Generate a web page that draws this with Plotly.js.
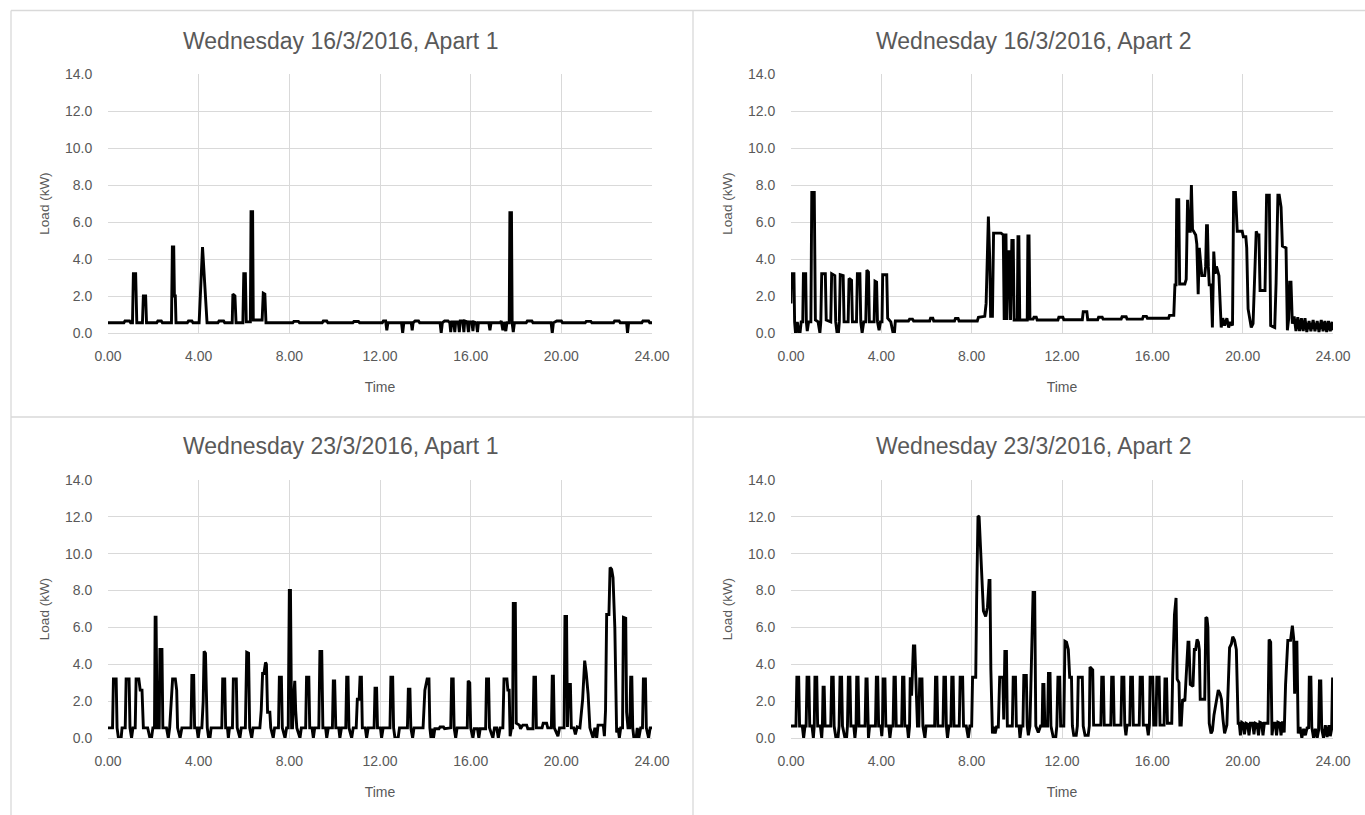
<!DOCTYPE html>
<html>
<head>
<meta charset="utf-8">
<script src="https://cdn.plot.ly/plotly-3.0.1.min.js"></script>
<style>html,body{margin:0;padding:0;background:#fff;}#chart{width:1365px;height:815px;}</style>
</head>
<body>
<div id="chart"></div>
<script>
// Chart titles
const panelTitles = [
  "Wednesday 16/3/2016, Apart 1",
  "Wednesday 16/3/2016, Apart 2",
  "Wednesday 23/3/2016, Apart 1",
  "Wednesday 23/3/2016, Apart 2"
];
const xTitle = "Time";
const yTitle = "Load (kW)";
const xTickVals = [0, 4, 8, 12, 16, 20, 24];
const yTickVals = [0, 2, 4, 6, 8, 10, 12, 14];

// [time (h), load (kW)]
const load16Apart1 = [
[0,0.55],[0.7,0.55],[0.75,0.65],[0.95,0.65],[1.0,0.55],[1.08,0.55],[1.12,3.2],[1.22,3.2],[1.27,0.55],[1.52,0.55],[1.56,2.0],[1.66,2.0],[1.7,0.55],
[2.15,0.55],[2.2,0.65],[2.35,0.65],[2.4,0.55],[2.8,0.55],[2.84,4.65],[2.9,4.65],[2.93,2.0],[2.97,2.0],[3.0,0.55],[3.5,0.55],[3.55,0.65],[3.7,0.65],[3.75,0.55],
[4.02,0.55],[4.17,4.65],[4.3,2.0],[4.37,0.55],[4.85,0.55],[4.9,0.65],[5.1,0.65],[5.15,0.55],[5.48,0.55],[5.51,2.1],[5.6,2.0],[5.65,0.55],
[5.95,0.55],[5.99,3.2],[6.06,3.2],[6.1,0.6],[6.28,0.6],[6.31,6.55],[6.38,6.55],[6.41,0.7],[6.8,0.7],[6.85,2.15],[6.92,2.1],[6.97,0.55],
[8.15,0.55],[8.2,0.63],[8.4,0.63],[8.45,0.55],[9.45,0.55],[9.5,0.65],[9.65,0.65],[9.7,0.55],[10.8,0.55],[10.85,0.62],[11.05,0.62],[11.1,0.55],
[12.1,0.55],[12.15,0.65],[12.25,0.65],[12.3,0.15],[12.35,0.55],[12.95,0.55],[13.0,0.0],[13.05,0.55],[13.38,0.55],[13.42,0.15],[13.46,0.55],[13.55,0.65],[13.7,0.65],[13.75,0.55],
[14.65,0.55],[14.7,0.0],[14.75,0.55],[14.85,0.65],[15.0,0.65],[15.08,0.55],[15.12,0.05],[15.16,0.6],[15.25,0.6],[15.3,0.05],[15.34,0.6],[15.45,0.6],[15.5,0.05],[15.54,0.65],
[15.65,0.65],[15.7,0.05],[15.74,0.65],[15.85,0.6],[15.9,0.05],[15.94,0.6],[16.05,0.6],[16.1,0.1],[16.14,0.6],[16.25,0.55],[16.3,0.05],[16.34,0.55],[16.8,0.55],[16.85,0.15],[16.9,0.55],
[17.3,0.55],[17.35,0.65],[17.42,0.15],[17.47,0.6],[17.55,0.1],[17.6,0.55],[17.7,0.55],[17.73,6.5],[17.8,6.5],[17.83,0.55],[17.88,0.05],[17.93,0.55],
[18.45,0.55],[18.5,0.65],[18.7,0.65],[18.75,0.55],[19.55,0.55],[19.6,0.0],[19.65,0.55],[19.8,0.65],[20.0,0.65],[20.05,0.55],[21.05,0.55],[21.1,0.63],[21.3,0.63],[21.35,0.55],
[22.3,0.55],[22.35,0.65],[22.55,0.65],[22.6,0.55],[22.88,0.55],[22.92,0.0],[22.97,0.55],[23.55,0.55],[23.6,0.65],[23.85,0.65],[23.9,0.55],[24,0.55]
];

const load16Apart2 = [
[0,1.6],[0.02,3.2],[0.13,3.2],[0.16,0.6],[0.2,0.0],[0.28,0.6],[0.34,0.0],[0.4,0.0],[0.45,0.6],[0.52,0.6],[0.55,3.2],[0.65,3.2],[0.68,0.6],[0.72,0.1],[0.78,0.6],[0.88,0.6],
[0.92,7.6],[1.03,7.6],[1.08,0.7],[1.2,0.6],[1.28,0.0],[1.32,0.6],[1.36,3.2],[1.52,3.2],[1.56,0.7],[1.76,0.6],[1.8,3.2],[1.94,3.1],[1.98,0.6],[2.04,0.0],[2.1,0.0],[2.14,0.6],
[2.18,3.15],[2.31,3.1],[2.35,0.6],[2.53,0.6],[2.57,2.95],[2.68,2.85],[2.72,0.6],[2.9,0.6],[2.94,3.2],[3.05,3.2],[3.09,0.6],[3.15,0.0],[3.22,0.6],[3.31,0.6],[3.36,3.4],[3.43,3.3],[3.47,0.6],
[3.68,0.6],[3.72,2.8],[3.79,2.75],[3.83,0.6],[3.9,0.15],[3.96,0.6],[4.03,0.6],[4.06,3.15],[4.24,3.15],[4.28,0.8],[4.42,0.6],[4.52,0.0],[4.58,0.0],[4.62,0.65],
[5.2,0.65],[5.25,0.75],[5.38,0.75],[5.43,0.65],[6.14,0.65],[6.18,0.8],[6.28,0.8],[6.32,0.65],[7.24,0.65],[7.28,0.78],[7.4,0.78],[7.44,0.65],
[8.25,0.65],[8.3,0.85],[8.58,0.9],[8.64,1.6],[8.74,6.3],[8.8,4.0],[8.84,0.9],[8.92,0.9],[8.97,5.4],[9.3,5.4],[9.4,5.3],[9.44,0.7],[9.48,5.3],[9.52,5.3],[9.56,0.7],
[9.62,4.4],[9.68,4.4],[9.72,0.7],[9.78,5.0],[9.84,5.0],[9.88,0.7],[10.02,0.7],[10.05,5.2],[10.09,5.2],[10.13,0.7],[10.46,0.7],[10.49,5.25],[10.54,5.25],[10.58,0.75],
[10.72,0.75],[10.76,0.85],[10.86,0.85],[10.9,0.7],[11.82,0.7],[11.86,0.85],[12.04,0.85],[12.08,0.72],[12.9,0.72],[12.94,1.15],[13.1,1.15],[13.14,0.72],
[13.58,0.72],[13.62,0.85],[13.78,0.85],[13.82,0.75],[14.62,0.75],[14.66,0.88],[14.84,0.88],[14.88,0.75],[15.56,0.75],[15.6,0.9],[15.74,0.9],[15.78,0.8],
[16.72,0.8],[16.76,0.95],[16.95,0.95],[17.0,2.6],[17.05,2.6],[17.08,7.2],[17.17,7.2],[17.21,2.65],[17.44,2.65],[17.5,2.9],[17.56,7.2],[17.6,5.5],[17.68,5.5],
[17.73,8.0],[17.78,5.6],[17.92,5.3],[17.97,4.8],[18.03,2.1],[18.08,4.6],[18.12,3.9],[18.19,3.1],[18.32,3.1],[18.36,3.6],[18.4,5.8],[18.44,5.8],[18.48,3.6],
[18.52,2.6],[18.6,2.6],[18.66,0.3],[18.72,4.4],[18.78,3.2],[18.84,3.6],[18.95,3.1],[19.05,0.3],[19.12,0.8],[19.2,0.4],[19.3,0.8],[19.38,0.3],[19.46,0.6],[19.55,0.4],
[19.6,7.6],[19.68,7.6],[19.76,5.5],[19.98,5.5],[20.03,5.2],[20.14,5.2],[20.18,4.6],[20.24,1.3],[20.32,0.6],[20.38,0.3],[20.46,0.5],[20.52,2.9],[20.6,5.5],[20.66,5.3],[20.72,5.3],
[20.77,2.3],[20.99,2.3],[21.06,7.45],[21.18,7.45],[21.24,0.4],[21.42,0.3],[21.48,2.7],[21.56,7.45],[21.62,7.45],[21.7,6.8],[21.76,4.7],[21.92,4.6],[21.98,0.15],
[22.04,0.8],[22.08,2.75],[22.14,2.75],[22.2,0.5],[22.28,0.9],[22.36,0.1],[22.44,0.85],[22.52,0.1],[22.6,0.8],[22.68,0.1],[22.76,0.8],[22.84,0.05],[22.94,0.65],
[23.02,0.1],[23.12,0.7],[23.2,0.1],[23.3,0.65],[23.38,0.05],[23.48,0.7],[23.56,0.1],[23.64,0.65],[23.72,0.05],[23.8,0.65],[23.88,0.1],[23.96,0.6],[24.0,0.15]
];

const load23Apart1 = [
[0,0.55],[0.2,0.55],[0.24,3.2],[0.36,3.2],[0.4,0.55],[0.46,0.0],[0.58,0.0],[0.62,0.55],[0.76,0.55],[0.8,3.2],[0.93,3.2],[0.97,0.55],[1.04,0.0],[1.1,0.55],
[1.2,0.55],[1.24,3.2],[1.36,3.2],[1.42,2.6],[1.5,2.6],[1.56,0.55],[1.75,0.55],[1.85,0.0],[1.92,0.0],[1.98,0.55],[2.05,0.55],[2.08,6.55],[2.12,6.55],[2.17,0.55],
[2.26,0.55],[2.29,4.8],[2.38,4.8],[2.42,0.55],[2.58,0.55],[2.66,0.0],[2.72,0.55],[2.8,2.5],[2.85,3.2],[2.97,3.2],[3.03,2.6],[3.07,0.55],[3.18,0.0],[3.26,0.55],
[3.66,0.55],[3.7,3.4],[3.78,3.4],[3.82,0.55],[3.92,0.55],[3.98,0.0],[4.04,0.55],[4.14,0.55],[4.2,2.0],[4.24,4.7],[4.3,4.6],[4.34,2.5],[4.38,0.55],[4.44,0.0],[4.5,0.0],[4.55,0.55],
[5.02,0.55],[5.06,3.2],[5.15,3.2],[5.19,0.55],[5.27,0.55],[5.31,0.0],[5.36,0.55],[5.49,0.55],[5.53,3.2],[5.66,3.2],[5.7,0.55],[5.82,0.0],[5.88,0.55],
[6.06,0.55],[6.12,4.65],[6.2,4.6],[6.25,0.55],[6.34,0.0],[6.4,0.55],[6.7,0.55],[6.76,1.5],[6.82,3.5],[6.88,3.5],[6.95,4.1],[6.99,4.0],[7.04,1.4],[7.14,1.4],[7.18,0.55],
[7.29,0.0],[7.35,0.55],[7.52,0.55],[7.56,3.3],[7.65,3.3],[7.69,0.55],[7.81,0.0],[7.88,0.55],[7.95,0.55],[8.0,8.0],[8.05,8.0],[8.1,0.55],[8.14,0.55],[8.2,2.4],[8.24,3.1],[8.28,1.5],[8.33,0.55],
[8.47,0.0],[8.53,0.55],[8.72,0.55],[8.76,3.3],[8.86,3.3],[8.9,0.55],[9.0,0.55],[9.06,0.0],[9.12,0.55],[9.3,0.55],[9.35,4.7],[9.43,4.7],[9.48,0.55],[9.6,0.55],[9.65,0.0],[9.72,0.55],
[9.9,0.55],[9.94,3.1],[10.0,3.1],[10.05,0.55],[10.18,0.55],[10.23,0.0],[10.3,0.55],[10.49,0.55],[10.53,3.3],[10.59,3.3],[10.63,0.55],[10.75,0.0],[10.82,0.55],
[10.95,0.55],[11.0,2.1],[11.08,2.1],[11.12,3.3],[11.18,3.3],[11.22,0.55],[11.35,0.55],[11.41,0.0],[11.48,0.55],[11.74,0.55],[11.78,2.7],[11.85,2.7],[11.89,0.55],
[12.02,0.55],[12.07,0.0],[12.14,0.55],[12.44,0.55],[12.48,3.3],[12.56,3.3],[12.6,0.55],[12.66,0.0],[12.8,0.0],[12.86,0.55],[13.21,0.55],[13.25,2.65],[13.32,2.65],[13.36,0.55],
[13.44,0.0],[13.5,0.55],[13.9,0.55],[13.98,2.6],[14.08,3.2],[14.16,3.2],[14.2,0.55],[14.25,0.0],[14.3,0.5],[14.36,0.0],[14.42,0.5],[14.6,0.5],[14.65,0.6],[14.8,0.6],[14.85,0.5],
[15.12,0.55],[15.16,3.2],[15.23,3.2],[15.27,0.55],[15.34,0.0],[15.4,0.55],[15.85,0.55],[15.89,3.1],[15.96,3.0],[16.0,0.55],[16.1,0.0],[16.16,0.5],[16.3,0.5],[16.36,0.0],[16.42,0.5],
[16.66,0.5],[16.7,3.2],[16.79,3.2],[16.83,0.55],[16.98,0.0],[17.05,0.55],[17.15,0.55],[17.22,0.0],[17.3,0.55],[17.42,0.55],[17.47,3.2],[17.6,3.2],[17.64,2.6],[17.7,2.6],[17.74,0.1],[17.8,0.55],
[17.85,0.55],[17.88,7.3],[17.97,7.3],[18.01,0.8],[18.15,0.7],[18.2,0.5],[18.3,0.7],[18.47,0.7],[18.52,0.5],[18.75,0.5],[18.79,3.3],[18.86,3.3],[18.9,0.55],
[19.15,0.55],[19.2,0.8],[19.35,0.8],[19.4,0.55],[19.56,0.55],[19.6,3.35],[19.65,3.35],[19.69,0.55],[19.85,0.1],[19.92,0.55],[20.12,0.55],[20.16,6.6],[20.23,6.6],[20.27,0.6],
[20.32,2.9],[20.4,2.9],[20.44,0.55],[20.55,0.55],[20.62,0.2],[20.7,0.6],[20.82,0.55],[20.94,2.1],[21.03,4.2],[21.1,3.5],[21.18,2.4],[21.26,0.55],[21.4,0.0],[21.48,0.55],[21.56,0.0],[21.62,0.7],
[21.85,0.7],[21.9,0.1],[21.95,1.5],[22.0,6.7],[22.1,6.7],[22.15,9.25],[22.22,9.15],[22.28,8.7],[22.36,6.0],[22.44,0.3],[22.5,0.55],[22.56,0.0],[22.62,0.55],
[22.7,0.55],[22.74,6.55],[22.84,6.5],[22.88,1.4],[22.94,0.55],[23.02,0.55],[23.06,3.3],[23.11,3.3],[23.15,0.55],[23.2,0.0],[23.3,0.0],[23.35,0.55],[23.42,0.0],[23.5,0.55],
[23.58,0.55],[23.62,3.2],[23.71,3.2],[23.75,0.55],[23.85,0.0],[23.92,0.55],[24,0.55]
];

const load23Apart2 = [
[0,0.65],[0.22,0.65],[0.26,3.3],[0.34,3.3],[0.38,0.65],[0.5,0.65],[0.56,0.0],[0.62,0.65],[0.67,0.65],[0.71,3.3],[0.79,3.3],[0.83,0.65],[0.93,0.65],[0.99,0.0],[1.03,0.65],
[1.06,3.3],[1.14,3.3],[1.18,0.65],[1.3,0.65],[1.36,0.0],[1.39,0.65],[1.42,2.75],[1.47,2.75],[1.51,0.65],[1.76,0.65],[1.8,3.3],[1.87,3.3],[1.91,0.65],[1.99,0.0],[2.08,0.0],[2.13,0.65],
[2.17,3.3],[2.24,3.3],[2.28,0.65],[2.39,0.0],[2.46,0.0],[2.5,0.65],[2.54,3.3],[2.61,3.3],[2.65,0.65],[2.78,0.65],[2.83,0.0],[2.88,0.65],[2.91,3.3],[2.97,3.3],[3.01,0.65],
[3.28,0.65],[3.32,3.2],[3.37,3.2],[3.4,0.65],[3.43,0.0],[3.48,0.65],[3.74,0.65],[3.78,3.3],[3.84,3.3],[3.88,0.65],[3.98,0.65],[4.02,0.1],[4.05,0.65],[4.08,3.2],[4.16,3.2],[4.2,0.65],
[4.33,0.65],[4.38,0.0],[4.44,0.65],[4.52,0.65],[4.56,3.3],[4.62,3.3],[4.66,0.65],[4.9,0.65],[4.94,3.3],[5.0,3.3],[5.04,0.65],[5.15,0.65],[5.2,0.0],[5.25,0.65],
[5.28,3.3],[5.34,2.3],[5.42,5.0],[5.48,5.0],[5.54,2.3],[5.6,0.65],[5.66,0.65],[5.7,3.2],[5.8,3.2],[5.84,0.65],[5.93,0.0],[5.98,0.65],[6.36,0.65],[6.4,3.3],[6.46,3.3],[6.5,0.65],
[6.73,0.65],[6.77,3.3],[6.84,3.3],[6.88,0.65],[6.93,0.0],[6.99,0.65],[7.08,0.65],[7.12,3.3],[7.18,3.3],[7.22,0.65],[7.45,0.65],[7.49,3.3],[7.6,3.3],[7.64,0.65],
[7.76,0.65],[7.85,0.0],[7.92,0.65],[8.0,0.65],[8.04,3.3],[8.18,3.3],[8.22,7.5],[8.28,12.05],[8.33,12.0],[8.44,9.3],[8.52,6.9],[8.62,6.6],[8.7,7.1],[8.77,8.55],[8.81,8.55],
[8.85,3.7],[8.92,0.25],[8.97,0.6],[9.04,0.25],[9.1,0.6],[9.18,0.6],[9.24,3.3],[9.38,3.3],[9.42,1.0],[9.47,4.7],[9.54,4.7],[9.58,0.65],[9.8,0.65],[9.84,3.3],[9.94,3.3],[9.98,0.65],
[10.1,0.65],[10.14,0.0],[10.2,0.65],[10.27,0.65],[10.31,3.4],[10.42,3.4],[10.46,0.65],[10.51,0.15],[10.58,0.65],[10.66,4.4],[10.72,7.9],[10.79,7.9],[10.84,0.65],[10.95,0.3],[11.05,0.65],
[11.12,0.65],[11.15,2.9],[11.2,2.9],[11.24,0.65],[11.36,0.65],[11.4,3.5],[11.47,3.5],[11.51,0.65],[11.62,0.0],[11.72,0.0],[11.77,0.65],[11.82,3.3],[11.9,3.3],[11.94,0.65],
[12.08,0.65],[12.13,5.25],[12.2,5.2],[12.28,4.8],[12.34,3.3],[12.42,3.3],[12.46,0.65],[12.52,0.15],[12.63,0.15],[12.68,0.65],[12.72,3.3],[12.9,3.3],[12.94,0.65],
[13.02,0.15],[13.16,0.15],[13.21,0.65],[13.24,3.85],[13.36,3.7],[13.4,0.7],[13.72,0.7],[13.76,3.3],[13.83,3.3],[13.87,0.7],[14.16,0.7],[14.2,3.3],[14.27,3.3],[14.31,0.7],
[14.61,0.7],[14.65,3.3],[14.74,3.3],[14.78,0.7],[14.83,0.15],[14.88,0.7],[15.0,0.7],[15.04,3.3],[15.12,3.3],[15.16,0.7],[15.42,0.7],[15.46,3.3],[15.56,3.3],[15.6,0.7],
[15.76,0.7],[15.82,0.15],[15.87,0.7],[15.9,3.3],[16.02,3.3],[16.06,0.7],[16.16,0.7],[16.2,3.3],[16.3,3.3],[16.34,0.7],[16.52,0.7],[16.56,3.2],[16.63,3.2],[16.67,0.8],
[16.86,0.8],[16.9,3.4],[16.98,6.7],[17.05,7.6],[17.1,3.2],[17.18,3.0],[17.22,0.7],[17.28,0.7],[17.34,2.1],[17.44,2.0],[17.5,3.7],[17.58,5.2],[17.62,5.2],[17.68,2.9],
[17.8,2.8],[17.86,4.8],[17.92,4.8],[17.98,5.35],[18.04,5.2],[18.08,4.8],[18.12,2.1],[18.32,2.1],[18.37,6.55],[18.42,6.5],[18.46,6.0],[18.52,0.8],[18.6,0.25],[18.66,0.4],
[18.73,1.25],[18.82,1.9],[18.92,2.6],[19.0,2.4],[19.06,2.1],[19.13,1.0],[19.2,0.25],[19.3,0.7],[19.42,4.9],[19.5,5.1],[19.56,5.5],[19.64,5.3],[19.72,4.8],[19.8,0.8],
[19.85,0.8],[19.9,0.15],[19.96,0.85],[20.02,0.8],[20.08,0.2],[20.15,0.8],[20.22,0.75],[20.28,0.15],[20.34,0.8],[20.44,0.8],[20.5,0.2],[20.56,0.8],[20.64,0.75],[20.7,0.15],
[20.76,0.85],[20.84,0.8],[20.9,0.15],[20.96,0.8],[21.12,0.8],[21.17,5.35],[21.24,5.2],[21.3,0.15],[21.36,0.8],[21.44,0.8],[21.5,0.15],[21.56,0.85],[21.64,0.8],[21.7,0.15],
[21.76,0.9],[21.84,0.3],[21.9,2.9],[22.0,5.3],[22.12,5.3],[22.2,6.1],[22.26,5.4],[22.3,2.4],[22.36,5.2],[22.4,5.2],[22.46,0.25],[22.54,0.6],[22.62,0.0],[22.7,0.5],
[22.78,0.15],[22.86,0.6],[22.92,0.5],[22.95,3.3],[23.02,3.3],[23.06,0.6],[23.14,0.0],[23.22,0.5],[23.3,0.0],[23.36,0.4],[23.4,3.1],[23.46,3.1],[23.5,0.5],[23.58,0.0],
[23.66,0.7],[23.74,0.05],[23.82,0.7],[23.88,0.1],[23.94,0.5],[23.98,3.2],[24.0,3.2]
];

const seriesList = [load16Apart1, load16Apart2, load23Apart1, load23Apart2];

// ---- layout geometry (pixels in a 1365x815 page) ----
const W = 1365, H = 815;
const px = v => v / W;
const py = v => 1 - v / H;
const plotBoxes = [
  {x0:108, x1:652, y0:74,  y1:333},
  {x0:791, x1:1333, y0:74, y1:333},
  {x0:108, x1:652, y0:480, y1:738},
  {x0:791, x1:1333, y0:480, y1:738}
];
const titleCenters = [{x:340, y:41}, {x:1033, y:41}, {x:340, y:446}, {x:1033, y:446}];

const FONT = "Liberation Sans, Arial, sans-serif";
const GRAY = "#595959";
const GRID = "#d9d9d9";

const traces = [];
const layout = {
  width: W, height: H,
  margin: {l:0, r:0, t:0, b:0},
  paper_bgcolor: "#ffffff",
  plot_bgcolor: "rgba(0,0,0,0)",
  showlegend: false,
  font: {family: FONT, color: GRAY, size: 14},
  annotations: [],
  shapes: []
};

seriesList.forEach((s, i) => {
  const n = i === 0 ? "" : String(i + 1);
  traces.push({
    type: "scatter", mode: "lines",
    x: s.map(p => p[0]), y: s.map(p => p[1]),
    xaxis: "x" + n, yaxis: "y" + n,
    line: {color: "#000000", width: 2.9},
    hoverinfo: "x+y"
  });
  const b = plotBoxes[i];
  layout["xaxis" + n] = {
    domain: [px(b.x0), px(b.x1)],
    anchor: "y" + n,
    range: [0, 24],
    tickvals: xTickVals,
    tickformat: ".2f",
    showgrid: true, gridcolor: GRID, gridwidth: 1,
    zeroline: false,
    showline: true, linecolor: GRID, linewidth: 1,
    ticks: "outside", ticklen: 10, tickcolor: "rgba(0,0,0,0)",
    tickfont: {family: FONT, color: GRAY, size: 14},
    title: {text: xTitle, font: {family: FONT, color: GRAY, size: 14}, standoff: 19},
    automargin: false, fixedrange: true
  };
  layout["yaxis" + n] = {
    domain: [py(b.y1), py(b.y0)],
    anchor: "x" + n,
    range: [0, 14],
    tickvals: yTickVals,
    tickformat: ".1f",
    showgrid: true, gridcolor: GRID, gridwidth: 1,
    zeroline: false, showline: false,
    ticks: "outside", ticklen: 12, tickcolor: "rgba(0,0,0,0)",
    tickfont: {family: FONT, color: GRAY, size: 14},
    title: {text: yTitle, font: {family: FONT, color: GRAY, size: 13.5}, standoff: 12},
    automargin: false, fixedrange: true
  };
  layout.annotations.push({
    text: panelTitles[i], xref: "paper", yref: "paper",
    x: px(titleCenters[i].x), y: py(titleCenters[i].y),
    xanchor: "center", yanchor: "middle", showarrow: false,
    font: {family: FONT, color: GRAY, size: 23}
  });
});

// panel frames / dividers
const lineStyle = {color: GRID, width: 1.3};
layout.shapes.push(
  {type:"line", xref:"paper", yref:"paper", x0:px(11), x1:px(1365), y0:py(10.5), y1:py(10.5), line:lineStyle},
  {type:"line", xref:"paper", yref:"paper", x0:px(11), x1:px(11), y0:py(10.5), y1:py(815), line:lineStyle},
  {type:"line", xref:"paper", yref:"paper", x0:px(693), x1:px(693), y0:py(10.5), y1:py(815), line:lineStyle},
  {type:"line", xref:"paper", yref:"paper", x0:px(11), x1:px(1365), y0:py(417), y1:py(417), line:lineStyle}
);

Plotly.newPlot("chart", traces, layout, {displayModeBar: false, staticPlot: true});
</script>
</body>
</html>
